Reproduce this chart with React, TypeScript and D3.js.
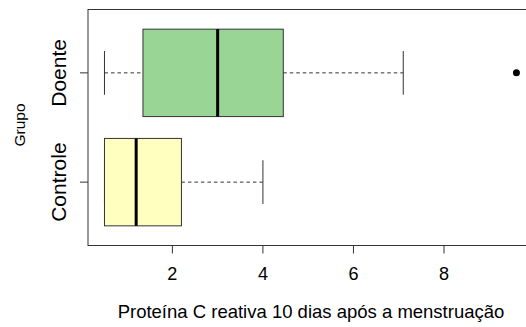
import React from "react";
import * as d3 from "d3";

// Box-plot statistics per group (min whisker, Q1, median, Q3, max whisker)
const groups = ["Controle", "Doente"];
const whiskerLow = [0.5, 0.5];
const q1 = [0.5, 1.35];
const medians = [1.2, 3.0];
const q3 = [2.2, 4.45];
const whiskerHigh = [4.0, 7.1];
const outliers = [[], [9.6]];
const fills = ["#FFFFBF", "#99D594"];
const xTicks = [2, 4, 6, 8];

const W = 526;
const H = 327;
const plot = { left: 88, right: 533, top: 9.5, bottom: 245.5 };
const font = "Liberation Sans, Arial, sans-serif";

export default function App() {
  const x = d3.scaleLinear().domain([0.136, 9.966]).range([plot.left, plot.right]);
  const y = d3.scaleLinear().domain([0.42, 2.58]).range([plot.bottom, plot.top]);
  const halfBox = y(0.8) - y(1.2);
  const halfStaple = halfBox / 2;
  const stroke = "#333";

  return (
    <svg width={W} height={H} style={{ position: "absolute", left: 0, top: 0 }}>
      <rect width={W} height={H} fill="#fff" />
      {groups.map((g, i) => {
        const cy = y(i + 1);
        return (
          <g key={g}>
            <line x1={x(whiskerLow[i])} x2={x(q1[i])} y1={cy} y2={cy} stroke={stroke} strokeDasharray="3.5,3" />
            <line x1={x(q3[i])} x2={x(whiskerHigh[i])} y1={cy} y2={cy} stroke={stroke} strokeDasharray="3.5,3" />
            <line x1={x(whiskerLow[i])} x2={x(whiskerLow[i])} y1={cy - halfStaple} y2={cy + halfStaple} stroke={stroke} />
            <line x1={x(whiskerHigh[i])} x2={x(whiskerHigh[i])} y1={cy - halfStaple} y2={cy + halfStaple} stroke={stroke} />
            <rect
              x={x(q1[i])}
              y={cy - halfBox}
              width={x(q3[i]) - x(q1[i])}
              height={halfBox * 2}
              fill={fills[i]}
              stroke={stroke}
            />
            <line x1={x(medians[i])} x2={x(medians[i])} y1={cy - halfBox} y2={cy + halfBox} stroke="#000" strokeWidth={3} />
            {outliers[i].map((v, j) => (
              <circle key={j} cx={x(v)} cy={cy} r={3.5} fill="#000" />
            ))}
            <line x1={plot.left - 8} x2={plot.left} y1={cy} y2={cy} stroke={stroke} />
            <text
              transform={`translate(${plot.left - 22},${cy}) rotate(-90)`}
              textAnchor="middle"
              fontFamily={font}
              fontSize={21}
              fill="#000"
            >
              {g}
            </text>
          </g>
        );
      })}
      <rect
        x={plot.left}
        y={plot.top}
        width={plot.right - plot.left}
        height={plot.bottom - plot.top}
        fill="none"
        stroke={stroke}
      />
      {xTicks.map((t) => (
        <g key={t}>
          <line x1={x(t)} x2={x(t)} y1={plot.bottom} y2={plot.bottom + 8} stroke={stroke} />
          <text x={x(t)} y={plot.bottom + 34} textAnchor="middle" fontFamily={font} fontSize={18} fill="#000">
            {t}
          </text>
        </g>
      ))}
      <text x={311} y={318} textAnchor="middle" fontFamily={font} fontSize={18.5} fill="#000">
        Proteína C reativa 10 dias após a menstruação
      </text>
      <text
        transform={`translate(25,125) rotate(-90)`}
        textAnchor="middle"
        fontFamily={font}
        fontSize={15.5}
        fill="#000"
      >
        Grupo
      </text>
    </svg>
  );
}
